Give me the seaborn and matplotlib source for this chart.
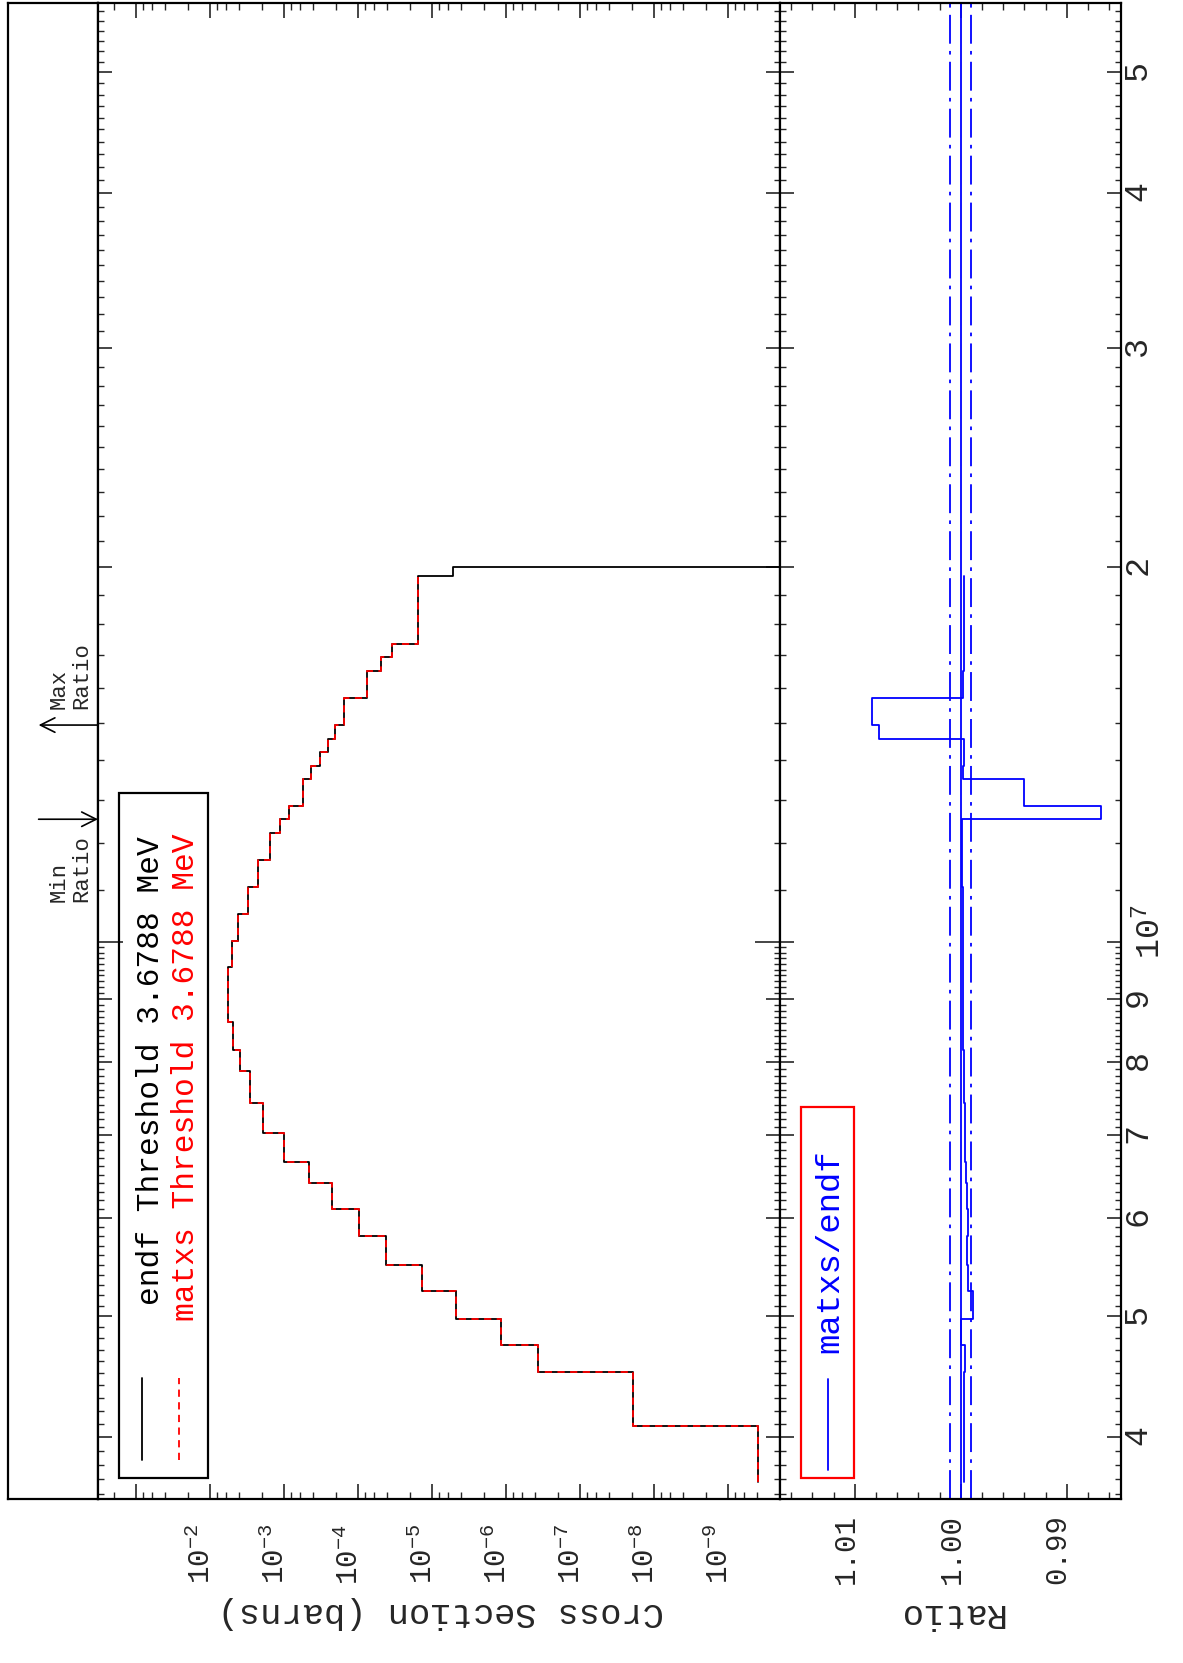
import numpy as np
import pandas as pd
import matplotlib
matplotlib.use("Agg")
import matplotlib.pyplot as plt
import seaborn as sns
from matplotlib.ticker import FixedLocator, FixedFormatter, NullFormatter
from matplotlib.patches import Rectangle
import matplotlib.transforms as mtransforms

# ---------------- data ----------------
# group boundaries (eV) of the matxs structure above threshold
energy_edges = [3.6788e6, 4.08e6, 4.51e6, 4.74e6, 4.98e6, 5.24e6, 5.50e6, 5.80e6,
                6.10e6, 6.40e6, 6.66e6, 7.02e6, 7.42e6, 7.87e6, 8.19e6, 8.63e6,
                9.54e6, 1.002e7, 1.053e7, 1.108e7, 1.164e7, 1.224e7, 1.255e7,
                1.286e7, 1.353e7, 1.386e7, 1.422e7, 1.457e7, 1.494e7, 1.572e7,
                1.650e7, 1.694e7, 1.736e7, 1.967e7]
# log10 of group cross sections (barns)
log_xs = [-9.41, -7.72, -6.43, -5.93, -5.327, -4.869, -4.381, -4.008, -3.65,
          -3.335, -3.005, -2.717, -2.546, -2.403, -2.316, -2.239, -2.293,
          -2.382, -2.509, -2.645, -2.811, -2.946, -3.072, -3.253, -3.365,
          -3.486, -3.591, -3.693, -3.811, -4.118, -4.311, -4.455, -4.815]
# endf has one more group up to 20 MeV
endf_extra_edge = 2.0e7
endf_extra_log_xs = -5.284
# ratio matxs/endf per group
ratio = [0.9997, 0.9997, 0.9996, 1.0000, 0.9988, 0.9993, 0.9994, 0.9993, 0.9994,
         0.9995, 0.9996, 0.9996, 0.9997, 0.9997, 0.9998, 0.9998, 0.9998,
         0.9998, 0.9998, 0.9999, 0.9999, 0.9999, 0.98674, 0.99404, 0.9998,
         0.9997, 0.9997, 1.0077, 1.0084, 0.9998, 0.9997, 0.9997, 0.9997]

xs_ticks = [1e-1, 1e-2, 1e-3, 1e-4, 1e-5, 1e-6, 1e-7, 1e-8, 1e-9, 1e-10]
xs_labels = ["", r"$10^{-2}$", r"$10^{-3}$", r"$10^{-4}$", r"$10^{-5}$", r"$10^{-6}$",
             r"$10^{-7}$", r"$10^{-8}$", r"$10^{-9}$", ""]
ratio_ticks = [1.01, 1.00, 0.99]
ratio_labels = ["1.01", "1.00", "0.99"]
e_ticks = [4e6, 5e6, 6e6, 7e6, 8e6, 9e6, 1e7, 2e7, 3e7, 4e7, 5e7]
e_labels = ["4", "5", "6", "7", "8", "9", r"$10^7$", "2", "3", "4", "5"]

# ---------------- style ----------------
sns.set_style("white")
plt.rcParams["font.family"] = ["Liberation Mono", "DejaVu Sans"]
plt.rcParams["mathtext.fontset"] = "custom"
plt.rcParams["mathtext.rm"] = "Liberation Mono"
plt.rcParams["mathtext.it"] = "Liberation Mono"
plt.rcParams["axes.unicode_minus"] = True

W, H = 1183, 1663
fig = plt.figure(figsize=(W / 100, H / 100), dpi=100)
fig.patch.set_facecolor("white")


def rect(x0, x1, y0, y1):
    return [x0 / W, 1 - y1 / H, (x1 - x0) / W, (y1 - y0) / H]


TOP, BOT = 3, 1499
ax_s = fig.add_axes(rect(8, 98, TOP, BOT))
ax_m = fig.add_axes(rect(98, 780, TOP, BOT))
ax_r = fig.add_axes(rect(780, 1121, TOP, BOT))

E_LO, E_HI = 3.566e6, 5.686e7

# ---------------- build step tables ----------------
edges = np.array(energy_edges)
xs = 10.0 ** np.array(log_xs)
step_E = np.repeat(edges, 2)[1:-1]
step_xs = np.repeat(xs, 2)
matxs_df = pd.DataFrame({"E": step_E, "xs": step_xs})

endf_edges = np.append(edges, endf_extra_edge)
endf_xs = np.append(xs, 10.0 ** endf_extra_log_xs)
endf_E = np.append(np.repeat(endf_edges, 2)[1:-1], endf_extra_edge)
endf_v = np.append(np.repeat(endf_xs, 2), 1e-30)
endf_df = pd.DataFrame({"E": endf_E, "xs": endf_v})

rat = np.array(ratio)
ratio_df = pd.DataFrame({"E": step_E, "r": np.repeat(rat, 2)})

# energy ticks
e_minor = [k * 1e5 for k in range(36, 100)] + [k * 1e6 for k in range(10, 57)]


def energy_axis(ax, labels):
    ax.set_yscale("log")
    ax.set_ylim(E_LO, E_HI)
    ax.yaxis.set_major_locator(FixedLocator(e_ticks))
    ax.yaxis.set_minor_locator(FixedLocator(e_minor))
    ax.yaxis.set_minor_formatter(NullFormatter())
    if labels:
        ax.yaxis.set_major_formatter(FixedFormatter(e_labels))
    else:
        ax.yaxis.set_major_formatter(NullFormatter())
    ax.tick_params(axis="y", which="both", direction="in", left=True, right=True,
                   labelleft=False, labelright=labels)
    ax.tick_params(axis="y", which="major", length=10, width=1.2)
    ax.tick_params(axis="y", which="minor", length=4, width=1.0)
    for t, v in zip(ax.yaxis.get_major_ticks(), e_ticks):
        if v == 1e7:
            t.tick1line.set_markersize(18)
            t.tick2line.set_markersize(18)


# ---------------- main panel ----------------
sns.lineplot(data=endf_df, x="xs", y="E", sort=False, estimator=None, ax=ax_m,
             color="black", lw=1.3)
sns.lineplot(data=matxs_df, x="xs", y="E", sort=False, estimator=None, ax=ax_m,
             color="red", lw=1.3, linestyle=(0, (4, 3)))
ax_m.set_xscale("log")
ax_m.set_xlim(10 ** -0.4865, 10 ** -9.703)
ax_m.set_xlabel("")
ax_m.set_ylabel("")
energy_axis(ax_m, False)

ax_m.xaxis.set_major_locator(FixedLocator(xs_ticks))
ax_m.xaxis.set_major_formatter(FixedFormatter(xs_labels))
minors = [k * d for d in [1e-11, 1e-10, 1e-9, 1e-8, 1e-7, 1e-6, 1e-5, 1e-4, 1e-3, 1e-2, 1e-1]
          for k in (2, 4, 6, 8)]
ax_m.xaxis.set_minor_locator(FixedLocator(minors))
ax_m.xaxis.set_minor_formatter(NullFormatter())
ax_m.tick_params(axis="x", which="both", direction="in", top=True, bottom=True,
                 labelsize=21, pad=18, labelrotation=90)
ax_m.tick_params(axis="x", which="major", length=11, width=1.2)
ax_m.tick_params(axis="x", which="minor", length=5, width=1.0)

# legend (rotated)
fig.patches.append(Rectangle((119, H - 1478), 89, 1478 - 793, transform=None,
                             fill=False, edgecolor="black", lw=1.6, zorder=5))
fig.text(151 / W, 1 - 1305 / H, "endf Threshold 3.6788 MeV", rotation=90,
         ha="center", va="bottom", fontsize=22.5, color="black")
fig.text(186 / W, 1 - 1321 / H, "matxs Threshold 3.6788 MeV", rotation=90,
         ha="center", va="bottom", fontsize=22.5, color="red")
fig.add_artist(plt.Line2D([142 / W, 142 / W], [1 - 1460 / H, 1 - 1378 / H],
                          color="black", lw=1.3))
fig.add_artist(plt.Line2D([179 / W, 179 / W], [1 - 1460 / H, 1 - 1378 / H],
                          color="red", lw=1.3, linestyle=(0, (4, 3))))

# ---------------- ratio panel ----------------
sns.lineplot(data=ratio_df, x="r", y="E", sort=False, estimator=None, ax=ax_r,
             color="blue", lw=1.3)
ax_r.axvline(1.0, color="blue", lw=1.3)
ax_r.axvline(1.001, color="blue", lw=1.3, linestyle=(0, (16, 4, 2, 4)))
ax_r.axvline(0.999, color="blue", lw=1.3, linestyle=(0, (16, 4, 2, 4)))
ax_r.set_xlim(1.01705, 0.98488)
ax_r.set_xlabel("")
ax_r.set_ylabel("")
energy_axis(ax_r, True)
ax_r.xaxis.set_major_locator(FixedLocator(ratio_ticks))
ax_r.xaxis.set_major_formatter(FixedFormatter(ratio_labels))
ax_r.xaxis.set_minor_locator(FixedLocator([0.984 + 0.002 * i for i in range(18)]))
ax_r.xaxis.set_minor_formatter(NullFormatter())
ax_r.tick_params(axis="x", which="both", direction="in", top=True, bottom=True,
                 labelsize=21, pad=11, labelrotation=90)
ax_r.tick_params(axis="x", which="major", length=11, width=1.2)
ax_r.tick_params(axis="x", which="minor", length=5, width=1.0)
ax_r.tick_params(axis="y", which="major", labelsize=24, pad=1, labelrotation=90)

# tick label offsets (labels sit a little left of their ticks)
off = mtransforms.ScaledTranslation(-9 / 100, 0, fig.dpi_scale_trans)
for ax in (ax_m, ax_r):
    for lab in ax.get_xticklabels():
        lab.set_transform(lab.get_transform() + off)
# the 10^7 label sits a little above and right of its tick
up = mtransforms.ScaledTranslation(12 / 100, 24 / 100, fig.dpi_scale_trans)
for lab, v in zip(ax_r.get_yticklabels(), e_ticks):
    if v == 1e7:
        lab.set_transform(lab.get_transform() + up)

# ratio legend
fig.patches.append(Rectangle((801, H - 1478), 53, 1478 - 1107, transform=None,
                             fill=False, edgecolor="red", lw=1.6, zorder=5))
fig.text(830 / W, 1 - 1353 / H, "matxs/endf", rotation=90, ha="center",
         va="bottom", fontsize=24.5, color="blue")
fig.add_artist(plt.Line2D([828 / W, 828 / W], [1 - 1470 / H, 1 - 1379 / H],
                          color="blue", lw=1.3))

# ---------------- strip with min / max ratio ----------------
ax_s.set_yscale("log")
ax_s.set_ylim(E_LO, E_HI)
ax_s.set_xlim(0, 1)
ax_s.set_xticks([])
ax_s.yaxis.set_major_locator(FixedLocator([]))
ax_s.yaxis.set_minor_locator(FixedLocator([]))
e_max = energy_edges[int(np.argmax(rat))]
e_min = energy_edges[int(np.argmin(rat))]
ax_s.annotate("", xy=(0.34, e_max), xytext=(1.0, e_max),
              arrowprops=dict(arrowstyle="->", lw=1.2, color="black",
                              mutation_scale=26, shrinkA=0, shrinkB=0))
ax_s.annotate("", xy=(1.0, e_min), xytext=(0.34, e_min),
              arrowprops=dict(arrowstyle="->", lw=1.2, color="black",
                              mutation_scale=26, shrinkA=0, shrinkB=0))
ax_s.text(0.69, e_max * 1.03, "Max\nRatio", rotation=90, ha="center",
          va="bottom", fontsize=16, multialignment="left", linespacing=1.1)
ax_s.text(0.69, e_min / 1.03, "Min\nRatio", rotation=90, ha="center",
          va="top", fontsize=16, multialignment="left", linespacing=1.1)

for ax in (ax_s, ax_m, ax_r):
    for sp in ax.spines.values():
        sp.set_linewidth(1.6)
        sp.set_color("black")

# axis titles (upside down as in the reference)
fig.text(441 / W, 1 - 1613 / H, "Cross Section (barns)", rotation=180,
         ha="center", va="center", fontsize=25.5)
fig.text(950 / W, 1 - 1613 / H, "Ratio", rotation=180, ha="center",
         va="center", fontsize=25.5)

fig.savefig("out.png", dpi=100, facecolor="white")
